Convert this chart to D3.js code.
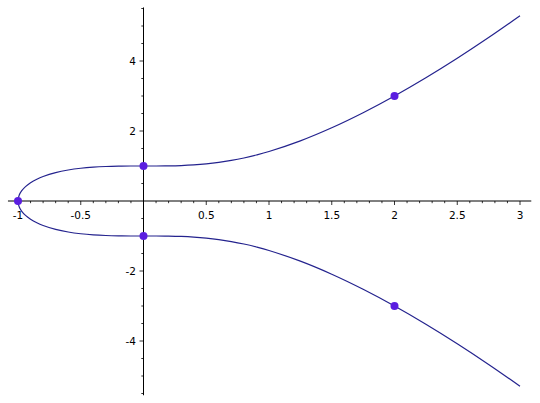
<!DOCTYPE html>
<html><head><meta charset="utf-8">
<script src="https://cdn.jsdelivr.net/npm/d3@7"></script>
<style>html,body{margin:0;padding:0;background:#fff;}svg{display:block;}</style>
</head><body>
<svg id="chart" width="540" height="403"></svg>
<script>
// Curve samples (upper branch, then lower branch)
const curveX = [-1, -0.99, -0.97, -0.94, -0.9, -0.85, -0.8, -0.7, -0.6, -0.5, -0.4, -0.3, -0.2, -0.1, 0, 0.1, 0.2, 0.3, 0.4, 0.5, 0.6, 0.7, 0.8, 0.9, 1, 1.25, 1.5, 1.75, 2, 2.25, 2.5, 2.75, 3];
const upperY = [0, 0.1723, 0.2955, 0.4116, 0.5206, 0.6212, 0.6986, 0.8106, 0.8854, 0.9354, 0.9675, 0.9864, 0.996, 0.9995, 1, 1.0005, 1.004, 1.0134, 1.0315, 1.0607, 1.1027, 1.1589, 1.2296, 1.3149, 1.4142, 1.7185, 2.0917, 2.5218, 3, 3.52, 4.0774, 4.6687, 5.2915];
const lowerY = [0, -0.1723, -0.2955, -0.4116, -0.5206, -0.6212, -0.6986, -0.8106, -0.8854, -0.9354, -0.9675, -0.9864, -0.996, -0.9995, -1, -1.0005, -1.004, -1.0134, -1.0315, -1.0607, -1.1027, -1.1589, -1.2296, -1.3149, -1.4142, -1.7185, -2.0917, -2.5218, -3, -3.52, -4.0774, -4.6687, -5.2915];
// Marked points
const pointX = [-1, 0, 0, 2, 2];
const pointY = [0, 1, -1, 3, -3];
// Ticks
const xMajorTicks = [-1, -0.5, 0.5, 1, 1.5, 2, 2.5, 3];
const xTickLabels = ["-1", "-0.5", "0.5", "1", "1.5", "2", "2.5", "3"];
const yMajorTicks = [-4, -2, 2, 4];
const yTickLabels = ["-4", "-2", "2", "4"];

const svg = d3.select("#chart");
const x = d3.scaleLinear().domain([-1, 3]).range([18, 520]);
const y = d3.scaleLinear().domain([-4, 4]).range([341, 61]);

const axisColor = "#000";
const curveColor = "#24238e";
const pointColor = "#5b1ee0";
const font = "'DejaVu Sans', sans-serif";

// x axis line
svg.append("line").attr("x1", x(-1.08)).attr("x2", x(3.09)).attr("y1", y(0)).attr("y2", y(0))
  .attr("stroke", axisColor).attr("stroke-width", 1);
// y axis line
svg.append("line").attr("x1", x(0)).attr("x2", x(0)).attr("y1", y(5.53)).attr("y2", y(-5.55))
  .attr("stroke", axisColor).attr("stroke-width", 1);

// x minor ticks
const xMinor = d3.range(-10, 31).map(d => d / 10).filter(d => Math.abs(d) > 1e-9);
svg.append("g").selectAll("line").data(xMinor).join("line")
  .attr("x1", d => x(d)).attr("x2", d => x(d))
  .attr("y1", y(0)).attr("y2", d => y(0) + (xMajorTicks.some(t => Math.abs(t - d) < 1e-9) ? 4 : 2.2))
  .attr("stroke", axisColor).attr("stroke-width", 0.8);
// y minor ticks
const yMinor = d3.range(-11, 12).map(d => d / 2).filter(d => d !== 0);
svg.append("g").selectAll("line").data(yMinor).join("line")
  .attr("y1", d => y(d)).attr("y2", d => y(d))
  .attr("x1", x(0)).attr("x2", d => x(0) - (yMajorTicks.includes(d) ? 4 : 2.2))
  .attr("stroke", axisColor).attr("stroke-width", 0.8);

// tick labels
svg.append("g").selectAll("text").data(xMajorTicks).join("text")
  .attr("x", d => x(d)).attr("y", y(0) + 18)
  .attr("text-anchor", "middle")
  .attr("font-family", font).attr("font-size", 10.5)
  .attr("fill", "#000")
  .text((d, i) => xTickLabels[i]);
svg.append("g").selectAll("text").data(yMajorTicks).join("text")
  .attr("x", x(0) - 7.5).attr("y", d => y(d) + 3.8)
  .attr("text-anchor", "end")
  .attr("font-family", font).attr("font-size", 10.5)
  .attr("fill", "#000")
  .text((d, i) => yTickLabels[i]);

// curve: lower branch reversed then upper branch
const pts = [];
for (let i = curveX.length - 1; i >= 0; i--) pts.push([curveX[i], lowerY[i]]);
for (let i = 1; i < curveX.length; i++) pts.push([curveX[i], upperY[i]]);
const line = d3.line().x(d => x(d[0])).y(d => y(d[1])).curve(d3.curveCatmullRom.alpha(0.5));
svg.append("path").attr("d", line(pts)).attr("fill", "none")
  .attr("stroke", curveColor).attr("stroke-width", 1.2);

// points
svg.append("g").selectAll("circle").data(pointX).join("circle")
  .attr("cx", d => x(d)).attr("cy", (d, i) => y(pointY[i])).attr("r", 4)
  .attr("fill", pointColor);
</script>
</body></html>
